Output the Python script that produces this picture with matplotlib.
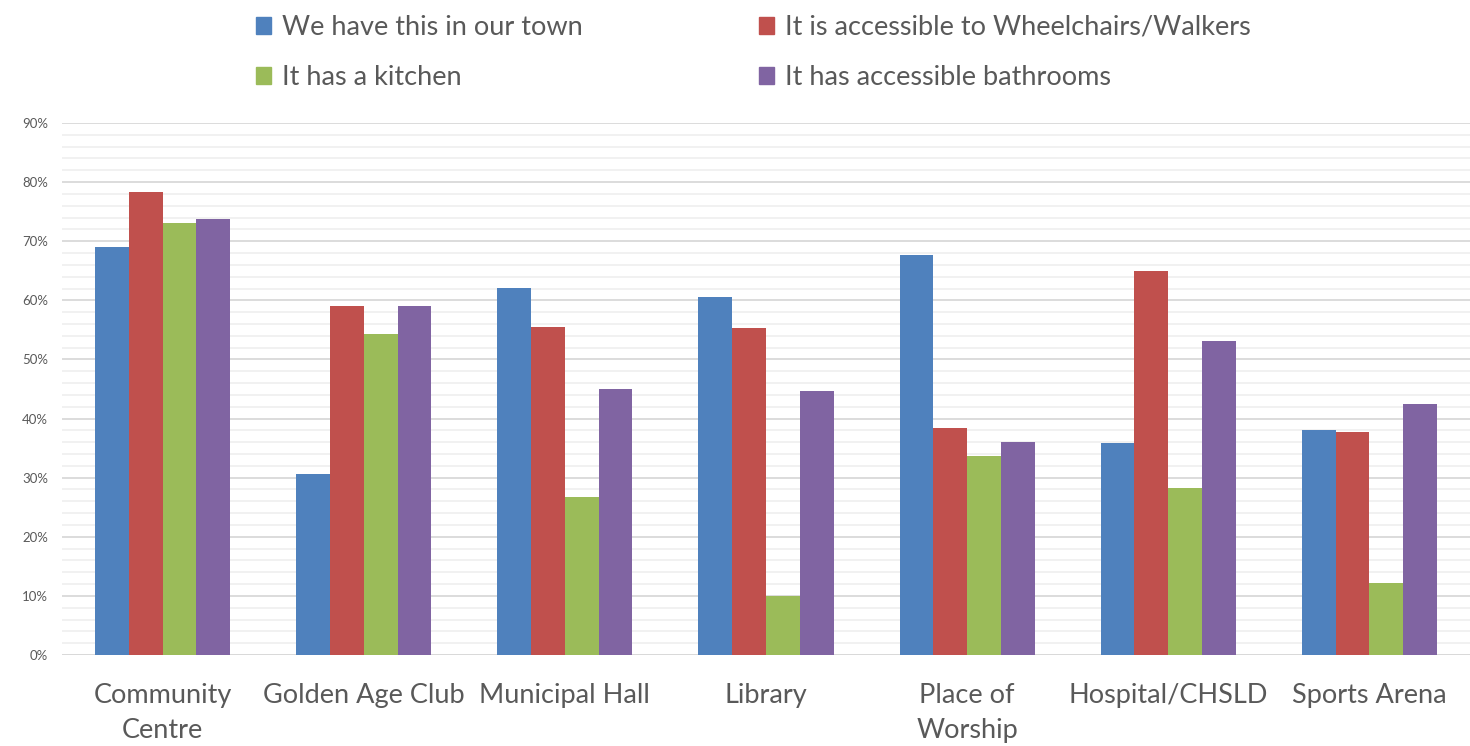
import numpy as np
import matplotlib.pyplot as plt
from matplotlib.patches import Patch
from matplotlib.ticker import MultipleLocator, PercentFormatter

#-----------------------------------------------------------------------------#
# DATA (fractions)
#-----------------------------------------------------------------------------#
categories = ["Community\nCentre", "Golden Age Club", "Municipal Hall",
              "Library", "Place of\nWorship", "Hospital/CHSLD", "Sports Arena"]
in_town = [0.690, 0.306, 0.621, 0.606, 0.677, 0.359, 0.381]
wheelchair = [0.784, 0.591, 0.555, 0.553, 0.384, 0.649, 0.378]
kitchen = [0.730, 0.543, 0.268, 0.100, 0.337, 0.283, 0.122]
bathrooms = [0.737, 0.590, 0.450, 0.446, 0.360, 0.531, 0.425]

labels = ["We have this in our town", "It is accessible to Wheelchairs/Walkers",
          "It has a kitchen", "It has accessible bathrooms"]
colors = ["#4f81bd", "#c0504d", "#9bbb59", "#8064a2"]

#-----------------------------------------------------------------------------#
# PLOT
#-----------------------------------------------------------------------------#
plt.rcParams['font.family'] = ['Lato', 'DejaVu Sans']
txt = "#595959"

fig = plt.figure(figsize=(14.7, 7.46), dpi=100)
ax = fig.add_axes([62/1470, 1-655/746, 1-62/1470, (655-123)/746])

x = np.arange(len(categories))
w = 0.168
series = [in_town, wheelchair, kitchen, bathrooms]
for i, (vals, c) in enumerate(zip(series, colors)):
    ax.bar(x + (i-1.5)*w, vals, w, color=c, edgecolor="none", zorder=3)

ax.set_xlim(-0.5, len(categories)-0.5)
ax.set_ylim(0, 0.9)
ax.yaxis.set_major_locator(MultipleLocator(0.1))
ax.yaxis.set_minor_locator(MultipleLocator(0.02))
ax.yaxis.set_major_formatter(PercentFormatter(1.0, decimals=0))
ax.grid(axis='y', which='major', color="#d9d9d9", lw=1.3, zorder=0)
ax.grid(axis='y', which='minor', color="#f0f0f0", lw=1.3, zorder=0)
ax.set_axisbelow(True)

ax.set_xticks(x)
ax.set_xticklabels(categories, fontsize=19.5, color=txt, linespacing=1.5)
ax.tick_params(axis='x', length=0, pad=20)
ax.tick_params(axis='y', which='both', length=0, labelsize=9.5,
               labelcolor=txt, pad=10)
for s in ax.spines.values():
    s.set_visible(False)
ax.axhline(0, color="#d9d9d9", lw=1.3, zorder=1)

#legend: two columns placed separately
h = [Patch(color=c) for c in colors]
kw = dict(loc='upper left', frameon=False, fontsize=19.5, handlelength=0.55,
          handleheight=0.55, handletextpad=0.4, labelspacing=0.93,
          borderpad=0, borderaxespad=0, labelcolor=txt)
leg1 = fig.legend([h[0], h[2]], [labels[0], labels[2]],
                  bbox_to_anchor=(256/1470, 1-15/746), **kw)
leg2 = fig.legend([h[1], h[3]], [labels[1], labels[3]],
                  bbox_to_anchor=(759/1470, 1-15/746), **kw)

fig.savefig("out.png", dpi=100)
